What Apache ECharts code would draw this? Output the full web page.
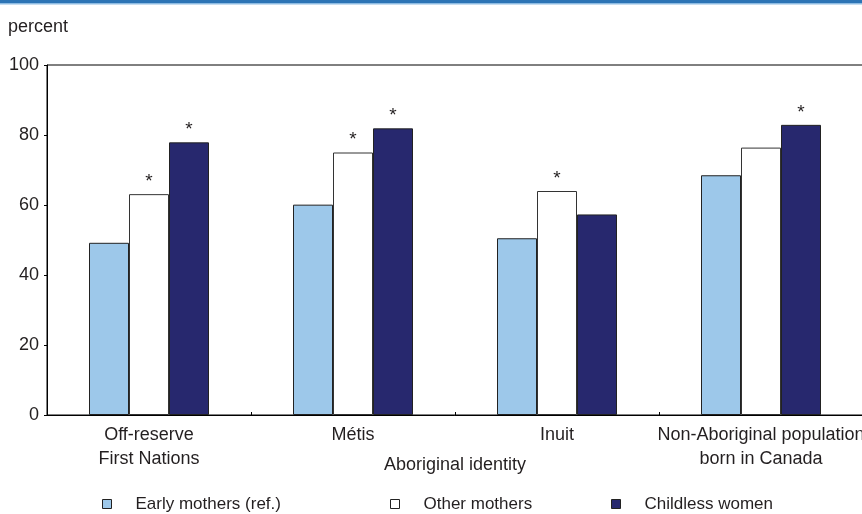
<!DOCTYPE html>
<html>
<head>
<meta charset="utf-8">
<script src="https://cdn.jsdelivr.net/npm/echarts@6/dist/echarts.min.js"></script>
<style>
  html, body { margin: 0; padding: 0; background: #fff; }
  #chart { width: 862px; height: 514px; }
</style>
</head>
<body>
<div id="chart"></div>
<script>
// Share of women in each group (percent), by Aboriginal identity
const categories = ['Off-reserve\nFirst Nations', 'Métis', 'Inuit', 'Non-Aboriginal population\nborn in Canada'];
const seriesNames = ['Early mothers (ref.)', 'Other mothers', 'Childless women'];
const earlyMothers = [49.2, 60.1, 50.5, 68.5];
const otherMothers = [63.1, 75.0, 64.0, 76.4];
const childlessWomen = [77.9, 81.9, 57.3, 82.9];
// statistically different from the reference group
const otherSignificant = [true, true, true, false];
const childlessSignificant = [true, true, false, true];
const yTicks = [0, 20, 40, 60, 80, 100];

const FONT = '"Liberation Sans", Arial, Helvetica, sans-serif';
const TXT = '#231f20';
const colors = ['#9dc8ea', '#ffffff', '#27286e'];

function starLabel(flags) {
  return {
    show: true,
    position: 'top',
    distance: 3,
    color: TXT,
    fontFamily: FONT,
    fontSize: 19,
    formatter: p => (flags[p.dataIndex] ? '*' : '')
  };
}

function legendFor(name, left) {
  return {
    data: [name],
    left: left,
    top: 494,
    padding: 0,
    icon: 'rect',
    itemWidth: 9,
    itemHeight: 9,
    itemStyle: { borderColor: '#222', borderWidth: 1 },
    textStyle: { color: TXT, fontFamily: FONT, fontSize: 17, lineHeight: 20, padding: [0, 0, 0, 19] },
    selectedMode: false
  };
}

const chart = echarts.init(document.getElementById('chart'), null, { renderer: 'canvas' });
chart.setOption({
  animation: false,
  backgroundColor: '#fff',
  graphic: [
    { type: 'rect', left: 0, top: 0, shape: { width: 862, height: 3 }, style: { fill: '#2c74b5' }, silent: true },
    { type: 'rect', left: 0, top: 3, shape: { width: 862, height: 1.5 }, style: { fill: '#8dbbe2' }, silent: true },
    { type: 'text', left: 8, top: 18, style: { text: 'percent', fill: TXT, font: '18px ' + FONT } }
  ],
  grid: {
    left: 47, top: 65, width: 816, height: 350,
    containLabel: false,
    outerBoundsMode: 'none',
    show: true, borderColor: '#000', borderWidth: 1, backgroundColor: 'transparent'
  },
  legend: [
    legendFor(seriesNames[0], 102),
    legendFor(seriesNames[1], 390),
    legendFor(seriesNames[2], 611)
  ],
  xAxis: {
    type: 'category',
    data: categories,
    name: 'Aboriginal identity',
    nameLocation: 'middle',
    nameGap: 41,
    nameMoveOverlap: false,
    nameTextStyle: { color: TXT, fontFamily: FONT, fontSize: 18, verticalAlign: 'top' },
    axisLine: { lineStyle: { color: '#000', width: 1 } },
    axisTick: { show: true, inside: true, length: 3, lineStyle: { color: '#000' } },
    axisLabel: { interval: 0, color: TXT, fontFamily: FONT, fontSize: 18, lineHeight: 24, margin: 8 },
    splitLine: { show: false }
  },
  yAxis: {
    type: 'value',
    min: 0, max: 100, interval: 20,
    axisLine: { show: true, lineStyle: { color: '#000', width: 1 } },
    axisTick: { show: true, inside: false, length: 3, lineStyle: { color: '#000' } },
    axisLabel: {
      color: TXT, fontFamily: FONT, fontSize: 18, margin: 8,
      formatter: v => (yTicks.includes(v) ? String(v) : '')
    },
    splitLine: { show: false }
  },
  series: [
    {
      name: seriesNames[0], type: 'bar', data: earlyMothers, barWidth: 40, barGap: '0%',
      itemStyle: { color: colors[0], borderColor: '#222', borderWidth: 1 }
    },
    {
      name: seriesNames[1], type: 'bar', data: otherMothers, barWidth: 40, barGap: '0%',
      itemStyle: { color: colors[1], borderColor: '#333', borderWidth: 1 },
      label: starLabel(otherSignificant)
    },
    {
      name: seriesNames[2], type: 'bar', data: childlessWomen, barWidth: 40, barGap: '0%',
      itemStyle: { color: colors[2], borderColor: '#222', borderWidth: 1 },
      label: starLabel(childlessSignificant)
    }
  ]
});
</script>
</body>
</html>
